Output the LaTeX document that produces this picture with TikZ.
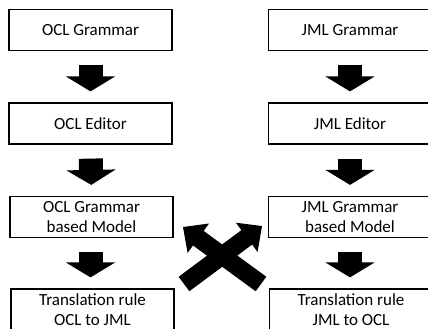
\documentclass[tikz,border=0pt]{standalone}
\usepackage{fontspec}
\setmainfont{Carlito}
\usetikzlibrary{arrows.meta, positioning}

\begin{document}
\begin{tikzpicture}[
    x=1pt, y=-1pt, % pixel-like units, y pointing down
    % Define box style
    box style/.style={
        draw, % Draw border
        line width=1.2pt, % Border thickness
        rectangle, % Rectangle shape
        minimum width=163pt, % Box width
        minimum height=41pt, % Box height
        inner sep=0pt,
        align=center, % Center alignment
        font=\fontsize{17}{20}\selectfont
      },
    % Define block arrow style (between boxes)
    block arrow/.style={
        line width=24pt, % Shaft width
        -{Triangle[length=15pt, width=49pt, line width=2pt]},
        shorten <=14pt, % Gap below upper box
        shorten >=11pt % Gap above lower box
      },
    % Define cross arrow style
    cross arrow/.style={
        line width=18pt,
        -{Triangle[length=19pt, width=36pt, line width=2pt]}
      }
  ]

  \clip (0,0) rectangle (428,329);

  % Left column (OCL)
  \node[box style] (oclgrammar) at (90.5, 30) {OCL Grammar};
  \node[box style] (ocleditor) at (90.5, 123.5) {OCL Editor};
  \node[box style] (oclmodel) at (91.5, 217) {OCL Grammar\\based Model};
  \node[box style] (oclrule) at (92.5, 309.5) {Translation rule\\OCL to JML};

  % Right column (JML)
  \node[box style] (jmlgrammar) at (350, 30) {JML Grammar};
  \node[box style] (jmleditor) at (350, 123.5) {JML Editor};
  \node[box style] (jmlmodel) at (350, 217) {JML Grammar\\based Model};
  \node[box style] (jmlrule) at (351, 309.5) {Translation rule\\JML to OCL};

  % Downward block arrows
  \draw[block arrow] (oclgrammar.south) -- (ocleditor.north);
  \draw[block arrow] (ocleditor.south) -- (oclmodel.north);
  \draw[block arrow] ([xshift=-1pt]oclmodel.south) -- ([xshift=-2pt]oclrule.north);
  \draw[block arrow] (jmlgrammar.south) -- (jmleditor.north);
  \draw[block arrow] (jmleditor.south) -- (jmlmodel.north);
  \draw[block arrow] (jmlmodel.south) -- ([xshift=-1pt]jmlrule.north);

  % Crossing arrows between the models
  \coordinate (jmltail) at (261, 284);
  \coordinate (ocltip) at (183, 227);
  \coordinate (ocltail) at (184, 284);
  \coordinate (jmltip) at (262, 226);
  \draw[cross arrow] (jmltail) -- (ocltip);
  \draw[cross arrow] (ocltail) -- (jmltip);

\end{tikzpicture}
\end{document}
